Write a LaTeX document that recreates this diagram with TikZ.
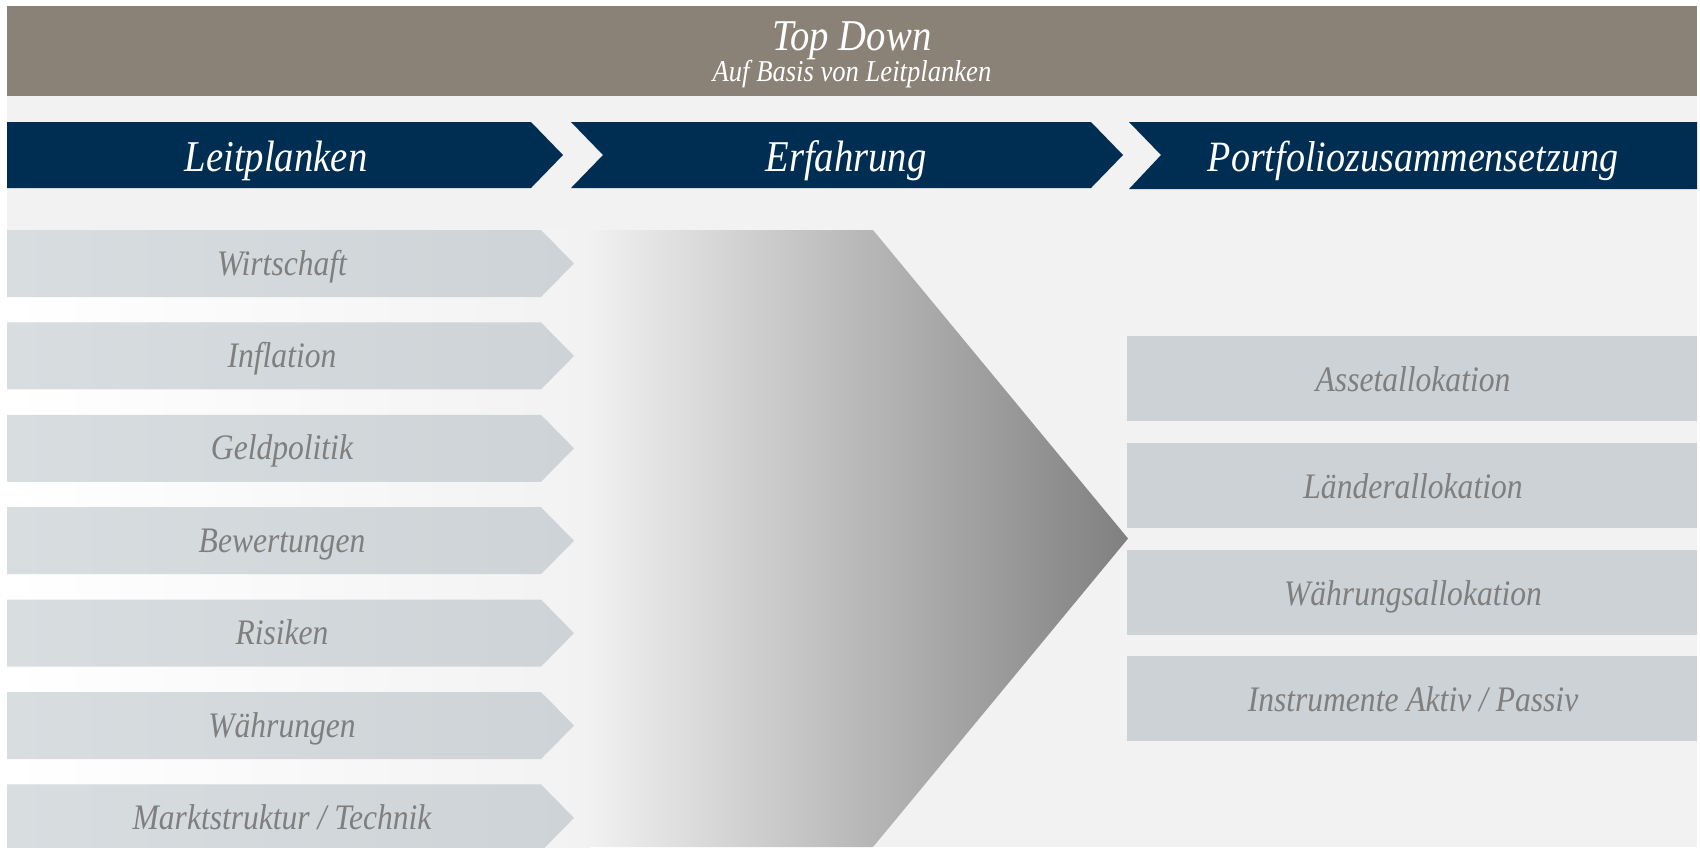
\documentclass[tikz,border=0pt]{standalone}
\usepackage{fontspec}
\setmainfont{Liberation Serif}[FakeStretch=0.88]
\usetikzlibrary{calc}

\definecolor{topbrown}{RGB}{138,130,118}
\definecolor{navy}{RGB}{0,46,82}
\definecolor{bggray}{RGB}{242,242,242}
\definecolor{itemleft}{RGB}{216,221,224}
\definecolor{itemright}{RGB}{206,211,215}
\definecolor{boxgray}{RGB}{205,210,214}
\definecolor{labelgray}{RGB}{127,127,127}
\definecolor{tipgray}{RGB}{128,128,128}

\tikzset{
  headtext/.style={text=white,anchor=base,font=\fontsize{12.5}{15}\selectfont\itshape},
  subtext/.style={text=white,anchor=base,font=\fontsize{8.6}{10}\selectfont\itshape},
  itemtext/.style={text=labelgray,anchor=base,font=\fontsize{10.2}{12}\selectfont\itshape},
  itemfill/.style={left color=itemleft,right color=itemright},
}

\begin{document}
\begin{tikzpicture}[x=0.01cm,y=-0.01cm]
	\useasboundingbox (0,0) rectangle (1700,847);
	\fill[white] (0,0) rectangle (1700,847);
	\fill[bggray] (7,96) rectangle (1697,847);
	% title bar
	\fill[topbrown] (7,6) rectangle (1697,96);
	\node[headtext] (title) at (852,50) {Top Down};
	\node[subtext] (subtitle) at (852,81) {Auf Basis von Leitplanken};
	% header chevrons
	\fill[navy] (7,122)--(531,122)--(563,155)--(531,188)--(7,188)--cycle;
	\fill[navy] (571,122)--(1091,122)--(1123,155)--(1091,188)--(571,188)--(603,155)--cycle;
	\fill[navy] (1129,122)--(1697,122)--(1697,189)--(1129,189)--(1161,155)--cycle;
	\node[headtext] (leit) at (276,171) {Leitplanken};
	\node[headtext] (erf) at (846,171) {Erfahrung};
	\node[headtext,font=\fontsize{12.3}{15}\selectfont\itshape] (port) at (1413,171) {Portfoliozusammensetzung};
	% fading background and big arrow
	\shade[left color=white,right color=bggray] (7,230) rectangle (590,847);
	\shade[left color=bggray,right color=tipgray] (585,230)--(873,230)--(1128,538.5)--(873,847)--(585,847)--cycle;
	% left column
	\foreach \y/\name/\txt in {230/wirt/Wirtschaft,322.4/infl/Inflation,414.8/geld/Geldpolitik,
		507.2/bew/Bewertungen,599.6/ris/Risiken,692/wae/Währungen,784.4/markt/{Marktstruktur / Technik}}{
		\shade[itemfill] (7,\y)--(541,\y)--(574,\y+33.5)--(541,\y+67)--(7,\y+67)--cycle;
		\node[itemtext] (\name) at (282,\y+45) {\txt};
	}
	% right column
	\foreach \y/\name/\txt in {336/asset/Assetallokation,443/laender/Länderallokation,
		550/waehr/Währungsallokation,656/instr/{Instrumente Aktiv / Passiv}}{
		\fill[boxgray] (1127,\y) rectangle (1697,\y+85);
		\node[itemtext] (\name) at (1413,\y+55) {\txt};
	}
\end{tikzpicture}
\end{document}
